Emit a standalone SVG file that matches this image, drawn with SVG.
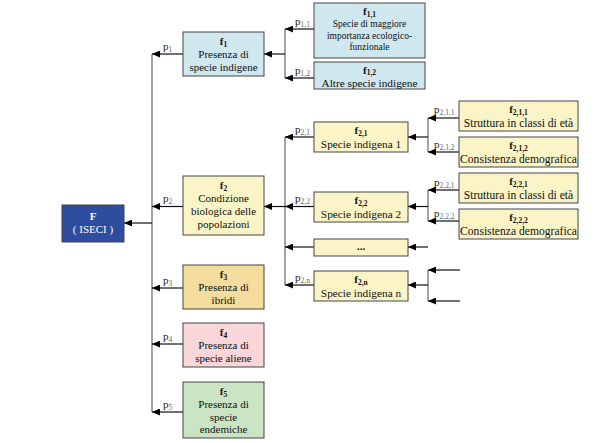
<svg xmlns="http://www.w3.org/2000/svg" width="600" height="443" viewBox="0 0 600 443" font-family="Liberation Serif, DejaVu Serif, Times New Roman, serif">
<defs>
<marker id="ah" markerWidth="8" markerHeight="7" refX="8" refY="3.5" orient="auto" markerUnits="userSpaceOnUse">
<path d="M0,0 L8,3.5 L0,7 Z" fill="#000"/>
</marker>
<style>
text{font-family:'Liberation Serif','DejaVu Serif','Times New Roman',serif}
.box{stroke:#444;stroke-width:1}
.t{font-size:11px;fill:#111;text-anchor:middle}
.m{font-size:11.3px}
.r{font-size:11.6px}
.tw{fill:#fff}
.b{font-weight:bold}
.s{font-size:7.5px}
.p{font-size:11px;fill:#222}
.ps{font-size:7.5px;fill:#666}
.c{stroke:#111;stroke-width:1.2;fill:none}
.v{stroke:#666;stroke-width:1.2;fill:none}
.blue{fill:#cfe7ee}
.yel{fill:#fbf4c6}
</style>
</defs>
<rect width="600" height="443" fill="#fff"/>
<g id="connectors">
<line class="v" x1="152" y1="54" x2="152" y2="412"/>
<line class="c" x1="183" y1="54" x2="152" y2="54" marker-end="url(#ah)"/>
<line class="c" x1="183" y1="206.5" x2="152" y2="206.5" marker-end="url(#ah)"/>
<line class="c" x1="183" y1="288" x2="152" y2="288" marker-end="url(#ah)"/>
<line class="c" x1="183" y1="344" x2="152" y2="344" marker-end="url(#ah)"/>
<line class="c" x1="183" y1="412" x2="152" y2="412" marker-end="url(#ah)"/>
<line class="c" x1="152" y1="223" x2="124" y2="223" marker-end="url(#ah)"/>
<line class="v" x1="285" y1="29" x2="285" y2="78"/>
<line class="c" x1="285" y1="54" x2="264" y2="54" marker-end="url(#ah)"/>
<line class="c" x1="314" y1="29" x2="285" y2="29" marker-end="url(#ah)"/>
<line class="c" x1="314" y1="78" x2="285" y2="78" marker-end="url(#ah)"/>
<line class="v" x1="285" y1="137" x2="285" y2="285"/>
<line class="c" x1="285" y1="206.5" x2="264" y2="206.5" marker-end="url(#ah)"/>
<line class="c" x1="314" y1="137" x2="285" y2="137" marker-end="url(#ah)"/>
<line class="c" x1="314" y1="206.5" x2="285" y2="206.5" marker-end="url(#ah)"/>
<line class="c" x1="314" y1="247" x2="285" y2="247" marker-end="url(#ah)"/>
<line class="c" x1="314" y1="285" x2="285" y2="285" marker-end="url(#ah)"/>
<line class="v" x1="428" y1="118" x2="428" y2="152"/>
<line class="c" x1="428" y1="137" x2="408" y2="137" marker-end="url(#ah)"/>
<line class="c" x1="459" y1="118" x2="428" y2="118" marker-end="url(#ah)"/>
<line class="c" x1="459" y1="152" x2="428" y2="152" marker-end="url(#ah)"/>
<line class="v" x1="428" y1="190" x2="428" y2="221"/>
<line class="c" x1="428" y1="206.5" x2="408" y2="206.5" marker-end="url(#ah)"/>
<line class="c" x1="459" y1="190" x2="428" y2="190" marker-end="url(#ah)"/>
<line class="c" x1="459" y1="221" x2="428" y2="221" marker-end="url(#ah)"/>
<line class="c" x1="428" y1="247" x2="408" y2="247" marker-end="url(#ah)"/>
<line class="v" x1="428" y1="270" x2="428" y2="301"/>
<line class="c" x1="428" y1="285" x2="408" y2="285" marker-end="url(#ah)"/>
<line class="c" x1="460" y1="270" x2="428" y2="270" marker-end="url(#ah)"/>
<line class="c" x1="460" y1="301" x2="428" y2="301" marker-end="url(#ah)"/>
</g>
<g id="labels">
<text class="p" x="163" y="50">p<tspan class="ps" dy="1.5">1</tspan></text>
<text class="p" x="163" y="202">p<tspan class="ps" dy="1.5">2</tspan></text>
<text class="p" x="163" y="284">p<tspan class="ps" dy="1.5">3</tspan></text>
<text class="p" x="163" y="340">p<tspan class="ps" dy="1.5">4</tspan></text>
<text class="p" x="163" y="408">p<tspan class="ps" dy="1.5">5</tspan></text>
<text class="p" x="295" y="25">p<tspan class="ps" dy="1.5">1,1</tspan></text>
<text class="p" x="295" y="74">p<tspan class="ps" dy="1.5">1,2</tspan></text>
<text class="p" x="295" y="133">p<tspan class="ps" dy="1.5">2,1</tspan></text>
<text class="p" x="295" y="202">p<tspan class="ps" dy="1.5">2,2</tspan></text>
<text class="p" x="295" y="281">p<tspan class="ps" dy="1.5">2,n</tspan></text>
<text class="p" x="434" y="113">p<tspan class="ps" dy="1.5">2,1,1</tspan></text>
<text class="p" x="434" y="148">p<tspan class="ps" dy="1.5">2,1,2</tspan></text>
<text class="p" x="434" y="186">p<tspan class="ps" dy="1.5">2,2,1</tspan></text>
<text class="p" x="434" y="217">p<tspan class="ps" dy="1.5">2,2,2</tspan></text>
</g>
<g id="F">
<rect class="box" x="62" y="205" width="62" height="37" fill="#2f4d9f" stroke="#1c2d66"/>
<text class="t tw b" x="93" y="219.5">F</text>
<text class="t tw" x="93" y="233">( ISECI )</text>
</g>
<g id="f1">
<rect class="box blue" x="183" y="32" width="81" height="44"/>
<text class="t" x="223.5" y="45"><tspan class="b">f</tspan><tspan class="s b" dy="1.5">1</tspan></text>
<text class="t" x="223.5" y="57.5">Presenza di</text>
<text class="t" x="223.5" y="70.5">specie indigene</text>
</g>
<g id="f2">
<rect class="box yel" x="183" y="176" width="81" height="59"/>
<text class="t" x="223.5" y="189"><tspan class="b">f</tspan><tspan class="s b" dy="1.5">2</tspan></text>
<text class="t" x="223.5" y="201.5">Condizione</text>
<text class="t" x="223.5" y="214.5">biologica delle</text>
<text class="t" x="223.5" y="227.5">popolazioni</text>
</g>
<g id="f3">
<rect class="box" x="183" y="265" width="81" height="44" fill="#f3dc9c"/>
<text class="t" x="223.5" y="278"><tspan class="b">f</tspan><tspan class="s b" dy="1.5">3</tspan></text>
<text class="t" x="223.5" y="290.5">Presenza di</text>
<text class="t" x="223.5" y="303.5">ibridi</text>
</g>
<g id="f4">
<rect class="box" x="183" y="323" width="81" height="44" fill="#f8d6d9"/>
<text class="t" x="223.5" y="336"><tspan class="b">f</tspan><tspan class="s b" dy="1.5">4</tspan></text>
<text class="t" x="223.5" y="348.5">Presenza di</text>
<text class="t" x="223.5" y="361.5">specie aliene</text>
</g>
<g id="f5">
<rect class="box" x="183" y="382" width="81" height="56" fill="#cbe5c4"/>
<text class="t" x="223.5" y="395"><tspan class="b">f</tspan><tspan class="s b" dy="1.5">5</tspan></text>
<text class="t" x="223.5" y="407.5">Presenza di</text>
<text class="t" x="223.5" y="420.5">specie</text>
<text class="t" x="223.5" y="433">endemiche</text>
</g>
<g id="f11">
<rect class="box blue" x="314" y="3" width="111" height="55"/>
<text class="t" x="369.5" y="15"><tspan class="b">f</tspan><tspan class="s b" dy="1.5">1,1</tspan></text>
<text class="t" x="369.5" y="27" style="font-size:9.5px">Specie di maggiore</text>
<text class="t" x="369.5" y="38.5" style="font-size:9.5px">importanza ecologico-</text>
<text class="t" x="369.5" y="50" style="font-size:9.5px">funzionale</text>
</g>
<g id="f12">
<rect class="box blue" x="314" y="62" width="111" height="27"/>
<text class="t" x="369.5" y="73.5"><tspan class="b">f</tspan><tspan class="s b" dy="1.5">1,2</tspan></text>
<text class="t m" x="369.5" y="86.5">Altre specie indigene</text>
</g>
<g id="f21">
<rect class="box yel" x="314" y="122" width="94" height="30"/>
<text class="t" x="361" y="134"><tspan class="b">f</tspan><tspan class="s b" dy="1.5">2,1</tspan></text>
<text class="t m" x="361" y="147.5">Specie indigena 1</text>
</g>
<g id="f22">
<rect class="box yel" x="314" y="192" width="94" height="30"/>
<text class="t" x="361" y="204"><tspan class="b">f</tspan><tspan class="s b" dy="1.5">2,2</tspan></text>
<text class="t m" x="361" y="217.5">Specie indigena 2</text>
</g>
<g id="fdots">
<rect class="box yel" x="314" y="239" width="94" height="17"/>
<text class="t b" x="361" y="250">...</text>
</g>
<g id="f2n">
<rect class="box yel" x="314" y="271" width="94" height="30"/>
<text class="t" x="361" y="283"><tspan class="b">f</tspan><tspan class="s b" dy="1.5">2,n</tspan></text>
<text class="t m" x="361" y="296.5">Specie indigena n</text>
</g>
<g id="f211">
<rect class="box yel" x="459" y="101" width="119" height="30"/>
<text class="t" x="518.5" y="113"><tspan class="b">f</tspan><tspan class="s b" dy="1.5">2,1,1</tspan></text>
<text class="t r" x="518.5" y="126.5">Struttura in classi di età</text>
</g>
<g id="f212">
<rect class="box yel" x="459" y="137" width="119" height="30"/>
<text class="t" x="518.5" y="149"><tspan class="b">f</tspan><tspan class="s b" dy="1.5">2,1,2</tspan></text>
<text class="t r" x="518.5" y="162.5">Consistenza demografica</text>
</g>
<g id="f221">
<rect class="box yel" x="459" y="173" width="119" height="30"/>
<text class="t" x="518.5" y="185"><tspan class="b">f</tspan><tspan class="s b" dy="1.5">2,2,1</tspan></text>
<text class="t r" x="518.5" y="198.5">Struttura in classi di età</text>
</g>
<g id="f222">
<rect class="box yel" x="459" y="209" width="119" height="30"/>
<text class="t" x="518.5" y="221"><tspan class="b">f</tspan><tspan class="s b" dy="1.5">2,2,2</tspan></text>
<text class="t r" x="518.5" y="234.5">Consistenza demografica</text>
</g>
</svg>
